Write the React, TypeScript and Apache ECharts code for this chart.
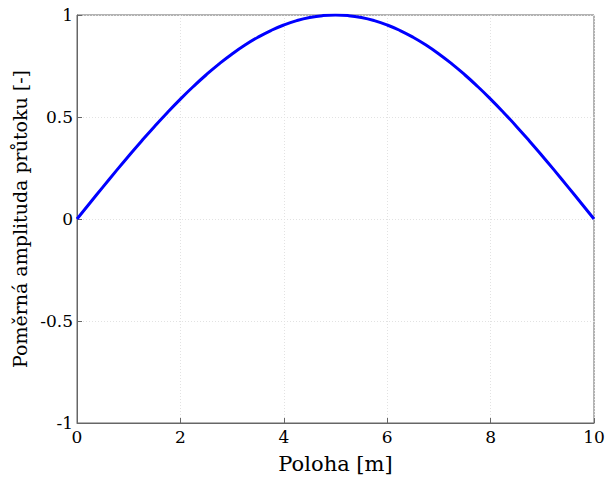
import React, { useEffect, useRef } from "react";
import * as echarts from "echarts";

const positions = [
  0, 0.25, 0.5, 0.75, 1, 1.25, 1.5, 1.75, 2, 2.25, 2.5, 2.75, 3, 3.25, 3.5, 3.75, 4, 4.25, 4.5, 4.75, 5,
  5.25, 5.5, 5.75, 6, 6.25, 6.5, 6.75, 7, 7.25, 7.5, 7.75, 8, 8.25, 8.5, 8.75, 9, 9.25, 9.5, 9.75, 10,
];
const amplitude = [
  0, 0.0785, 0.1564, 0.2334, 0.309, 0.3827, 0.454, 0.5225, 0.5878, 0.6494, 0.7071, 0.7604, 0.809, 0.8526,
  0.891, 0.9239, 0.9511, 0.9724, 0.9877, 0.9969, 1, 0.9969, 0.9877, 0.9724, 0.9511, 0.9239, 0.891, 0.8526,
  0.809, 0.7604, 0.7071, 0.6494, 0.5878, 0.5225, 0.454, 0.3827, 0.309, 0.2334, 0.1564, 0.0785, 0,
];
const xTitle = "Poloha [m]";
const yTitle = "Poměrná amplituda průtoku [-]";

export default function App() {
  const ref = useRef<HTMLDivElement>(null);
  useEffect(() => {
    if (!ref.current) return;
    const chart = echarts.init(ref.current, undefined, { renderer: "svg" });
    const font = "DejaVu Serif";
    chart.setOption({
      animation: false,
      backgroundColor: "#ffffff",
      textStyle: { fontFamily: font },
      grid: {
        left: 77,
        top: 15,
        right: 12,
        bottom: 54,
        show: true,
        borderColor: "#666",
        borderWidth: 1,
        outerBoundsMode: "none",
        containLabel: false,
      },
      xAxis: {
        type: "value",
        min: 0,
        max: 10,
        interval: 2,
        name: xTitle,
        nameLocation: "middle",
        nameGap: 30,
        nameTextStyle: { fontFamily: font, fontSize: 21, color: "#000" },
        axisLine: { show: true, onZero: false, lineStyle: { color: "#666", width: 1 } },
        axisTick: { show: true, inside: true, length: 5, lineStyle: { color: "#666" } },
        axisLabel: { fontFamily: font, fontSize: 17, color: "#000", margin: 5 },
        splitLine: { show: true, lineStyle: { color: "#e2e2e2", type: [1, 2], width: 1 } },
      },
      yAxis: {
        type: "value",
        min: -1,
        max: 1,
        interval: 0.5,
        name: yTitle,
        nameLocation: "middle",
        nameGap: 44,
        nameTextStyle: { fontFamily: font, fontSize: 19, color: "#000" },
        axisLine: { show: true, lineStyle: { color: "#666", width: 1 } },
        axisTick: { show: true, inside: true, length: 5, lineStyle: { color: "#666" } },
        axisLabel: { fontFamily: font, fontSize: 17, color: "#000", margin: 4 },
        splitLine: { show: true, lineStyle: { color: "#e2e2e2", type: [1, 2], width: 1 } },
      },
      series: [
        {
          type: "line",
          data: positions.map((x, i) => [x, amplitude[i]]),
          showSymbol: false,
          smooth: true,
          lineStyle: { color: "#0000ff", width: 3 },
        },
      ],
    });
    return () => chart.dispose();
  }, []);
  return <div ref={ref} style={{ width: 606, height: 477, position: "absolute", left: 0, top: 0 }} />;
}
